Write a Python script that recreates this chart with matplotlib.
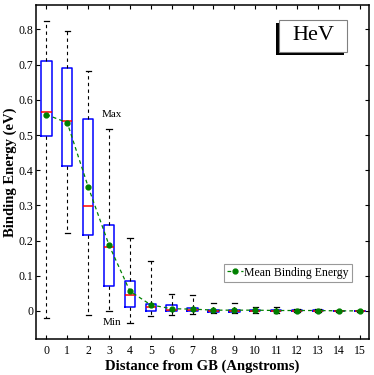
import matplotlib
matplotlib.use("Agg")
import matplotlib.pyplot as plt
from matplotlib.patches import Rectangle

# ---- data ----
distance = list(range(16))
whis_hi = [0.825, 0.795, 0.681, 0.517, 0.208, 0.141, 0.048, 0.046,
           0.022, 0.022, 0.012, 0.012, 0.004, 0.004, 0.003, 0.003]
q3 = [0.711, 0.690, 0.545, 0.245, 0.086, 0.019, 0.016, 0.007,
      0.003, 0.003, 0.003, 0.002, 0.002, 0.002, 0.001, 0.001]
median = [0.565, 0.541, 0.297, 0.181, 0.045, 0.011, 0.003, 0.003,
          0.001, 0.001, 0.001, 0.001, 0.0, 0.0, 0.0, 0.0]
q1 = [0.496, 0.411, 0.215, 0.072, 0.011, 0.001, 0.0, -0.001,
      -0.002, -0.002, -0.001, -0.001, -0.001, -0.001, -0.001, -0.001]
whis_lo = [-0.020, 0.222, -0.013, 0.0, -0.034, -0.015, -0.013, -0.009,
           -0.007, -0.007, -0.005, -0.007, -0.003, -0.003, -0.002, -0.002]
mean_be = [0.558, 0.535, 0.353, 0.187, 0.056, 0.017, 0.006, 0.005,
           0.002, 0.002, 0.002, 0.001, 0.001, 0.001, 0.0, 0.0]

y_ticks = [0, 0.1, 0.2, 0.3, 0.4, 0.5, 0.6, 0.7, 0.8]
y_tick_labels = ["0", "0.1", "0.2", "0.3", "0.4", "0.5", "0.6", "0.7", "0.8"]

plt.rcParams["font.family"] = "serif"
plt.rcParams["font.serif"] = ["Liberation Serif", "DejaVu Serif"]

fig = plt.figure(figsize=(3.74, 3.75), dpi=100)
ax = fig.add_axes([0.096, 0.096, 0.891, 0.891])

stats = []
for i in range(len(distance)):
    stats.append({"med": median[i], "q1": q1[i], "q3": q3[i],
                  "whislo": whis_lo[i], "whishi": whis_hi[i], "fliers": []})

ax.bxp(stats, positions=distance, widths=0.5, showfliers=False,
       boxprops=dict(color="blue", linewidth=1.1),
       medianprops=dict(color="red", linewidth=1.1),
       whiskerprops=dict(color="black", linewidth=0.8, linestyle=(0, (3, 3))),
       capprops=dict(color="black", linewidth=0.9),
       capwidths=0.25)

ax.plot(distance, mean_be, color="#008000", linestyle=(0, (3, 2.5)), linewidth=0.9,
        marker="o", markersize=3.5, label="Mean Binding Energy", zorder=5)

ax.text(3.15, 0.557, "Max", ha="center", va="center", fontsize=8)
ax.text(3.15, -0.032, "Min", ha="center", va="center", fontsize=8)

ax.set_xlim(-0.5, 15.45)
ax.set_ylim(-0.08, 0.87)
ax.set_xticks(distance)
ax.set_xticklabels([str(d) for d in distance])
ax.set_yticks(y_ticks)
ax.set_yticklabels(y_tick_labels)
ax.tick_params(direction="in", top=True, right=True, labelsize=8.5, length=3)
ax.tick_params(axis="x", pad=4)
ax.tick_params(axis="y", pad=2)
for sp in ax.spines.values():
    sp.set_linewidth(1.1)

ax.set_xlabel("Distance from GB (Angstroms)", fontsize=10.5, fontweight="bold", labelpad=2)
ax.set_ylabel("Binding Energy (eV)", fontsize=10.5, fontweight="bold")
ax.yaxis.set_label_coords(-0.057, 0.5)

leg = ax.legend(loc="lower right", bbox_to_anchor=(0.948, 0.172), fontsize=8.5,
                frameon=True, fancybox=False, handlelength=1.4, handletextpad=0.1,
                borderpad=0.25, borderaxespad=0)
leg.get_frame().set_edgecolor("gray")
leg.get_frame().set_linewidth(0.8)

# "HeV" label box with drop shadow (axes coords)
ax.add_patch(Rectangle((0.720, 0.851), 0.204, 0.096, transform=ax.transAxes,
                       facecolor="black", edgecolor="none", zorder=6))
ax.add_patch(Rectangle((0.730, 0.859), 0.204, 0.096, transform=ax.transAxes,
                       facecolor="white", edgecolor="gray", linewidth=0.8, zorder=7))
ax.text(0.832, 0.907, "HeV", transform=ax.transAxes, ha="center", va="center",
        fontsize=16, zorder=8)

fig.savefig("out.png", dpi=100)
